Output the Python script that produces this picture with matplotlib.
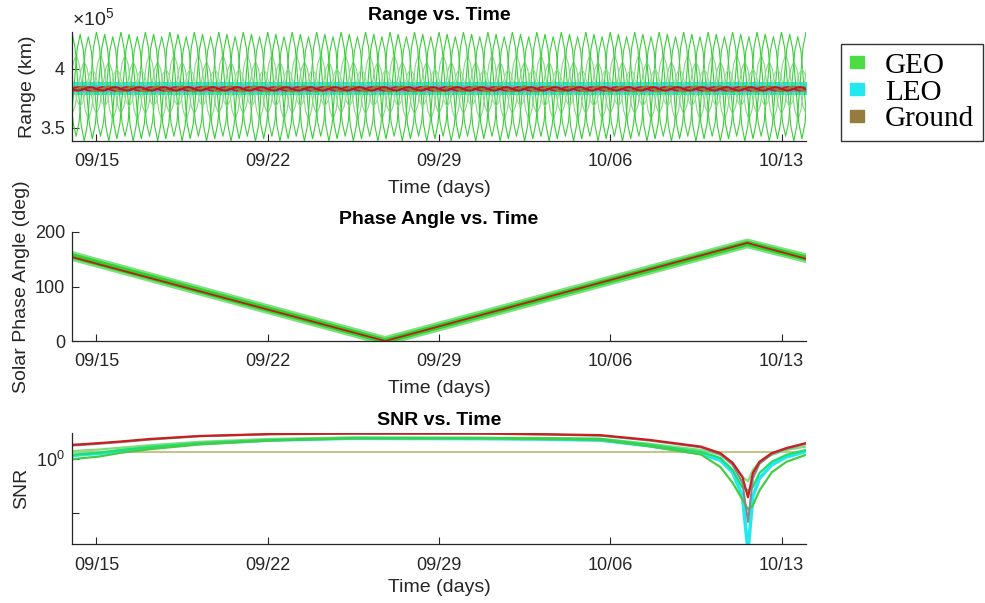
import numpy as np
import matplotlib
matplotlib.use('Agg')
import matplotlib.pyplot as plt
import matplotlib.dates as mdates
from matplotlib.patches import Patch
from matplotlib.ticker import FixedLocator, FuncFormatter, NullLocator

plt.rcParams['font.family'] = ['Liberation Sans', 'DejaVu Sans']
plt.rcParams['mathtext.fontset'] = 'custom'
plt.rcParams['mathtext.rm'] = 'Liberation Sans'
plt.rcParams['mathtext.it'] = 'Liberation Sans:italic'

# time axis (days after start_date)
start_date = np.datetime64('2026-09-14T00:00')
end_day = 30
tick_dates = ['2026-09-15', '2026-09-22', '2026-09-29', '2026-10-06', '2026-10-13']

# ---- range vs time ----
day_profile = [1.0, 0.71, 0.0, -0.71, -1.0, -0.71, 0.0, 0.71]  # one day, 3 h steps
geo_peak_km = [431e3, 412e3, 429e3, 406e3, 427e3, 400e3]
geo_trough_km = [339e3, 357e3, 341e3, 362e3, 343e3, 368e3]
geo_peak_hour = [0, 4, 8, 12, 16, 20]
leo_range_min_km = 377.5e3
leo_range_max_km = 389e3
ground_peak_km = [385e3, 384.5e3, 385e3, 384.5e3]
ground_trough_km = [381e3, 381.5e3, 381e3, 381.5e3]
ground_peak_hour = [0, 6, 12, 18]

# ---- phase angle vs time ----
phase_days = [0, 12.8, 27.6, 30]
geo_phase_deg = [156, 0, 179, 152]
ground_phase_deg = [154, 0, 180, 151]

# ---- SNR vs time ----
snr_days = [0, 0.5, 1.1, 2, 3.2, 5.2, 8.1, 11.4, 16.7, 19.5, 21.6, 23.6, 25.7,
            26.5, 27.0, 27.4, 27.63, 27.83, 28.1, 28.6, 29.2, 30]
snr_ground_red = [1.35, 1.37, 1.40, 1.45, 1.53, 1.63, 1.70, 1.72, 1.72, 1.69, 1.66, 1.50, 1.30,
                  1.13, 0.92, 0.68, 0.44, 0.74, 0.94, 1.13, 1.26, 1.40]
snr_ground_gray = [1.33, 1.35, 1.38, 1.43, 1.51, 1.62, 1.69, 1.71, 1.71, 1.68, 1.64, 1.48, 1.28,
                   1.10, 0.88, 0.60, 0.26, 0.66, 0.90, 1.11, 1.24, 1.38]
snr_ground_flat = [1.16, 1.16]
snr_geo = [
    [1.18, 1.20, 1.22, 1.27, 1.34, 1.44, 1.53, 1.58, 1.57, 1.56, 1.54, 1.38, 1.21,
     1.09, 0.92, 0.68, 0.62, 0.79, 0.94, 1.09, 1.21, 1.30],
    [1.09, 1.11, 1.14, 1.21, 1.29, 1.40, 1.50, 1.56, 1.56, 1.55, 1.53, 1.35, 1.16,
     1.02, 0.79, 0.54, 0.51, 0.55, 0.74, 0.94, 1.09, 1.21],
    [0.99, 1.02, 1.05, 1.14, 1.23, 1.36, 1.48, 1.55, 1.55, 1.53, 1.50, 1.31, 1.10,
     0.84, 0.60, 0.42, 0.34, 0.37, 0.51, 0.75, 0.94, 1.09],
]
snr_leo = [1.07, 1.10, 1.12, 1.19, 1.27, 1.39, 1.49, 1.55, 1.54, 1.52, 1.49, 1.32, 1.12,
           0.97, 0.75, 0.45, 0.14, 0.45, 0.66, 0.88, 1.04, 1.17]

geo_color = '#4cdc44'
leo_color = '#22e8f0'
ground_color = '#957c3c'
axis_color = '#262626'


def to_dates(days):
    secs = (np.asarray(days, dtype=float) * 86400).astype('timedelta64[s]')
    return start_date + secs


def daily_wave(peak, trough, hour):
    # repeat the one-day profile over the whole period
    n = (end_day + 2) * len(day_profile) + 1
    steps = np.arange(n)
    days = (hour + (steps - len(day_profile)) * 24 / len(day_profile)) / 24
    mid = (peak + trough) / 2
    half = (peak - trough) / 2
    return to_dates(days), mid + half * np.resize(day_profile, n)


fig = plt.figure(figsize=(9.85, 6.03), dpi=100)
ax1 = fig.add_axes([72 / 985, 1 - 141 / 603, 734 / 985, 109 / 603])
ax2 = fig.add_axes([72 / 985, 1 - 341 / 603, 734 / 985, 109 / 603])
ax3 = fig.add_axes([72 / 985, 1 - 544 / 603, 734 / 985, 111 / 603])

# range
geo_line_colors = ['#3ccc3c', '#86d886', '#2ed02e', '#7fd47f', '#44cc44', '#90dc90']
for pk, tr, hr, c in zip(geo_peak_km, geo_trough_km, geo_peak_hour, geo_line_colors):
    t, r = daily_wave(pk, tr, hr)
    ax1.plot(t, r, color=c, lw=0.8)
ax1.fill_between(to_dates([-1, end_day + 1]), leo_range_min_km, leo_range_max_km,
                 color=leo_color, lw=0)
ground_line_colors = ['#7f9ec4', '#c62424', ground_color, '#b81c1c']
for pk, tr, hr, c in zip(ground_peak_km, ground_trough_km, ground_peak_hour, ground_line_colors):
    t, r = daily_wave(pk, tr, hr)
    ax1.plot(t, r, color=c, lw=1.5)
ax1.set_ylim(339e3, 431e3)
ax1.yaxis.set_major_locator(FixedLocator([350e3, 400e3]))
ax1.yaxis.set_major_formatter(FuncFormatter(lambda v, p: '%g' % (v / 1e5)))
ax1.text(0.0, 1.03, r'$\times10^{5}$', transform=ax1.transAxes, fontsize=14,
         color=axis_color, ha='left', va='bottom')
ax1.set_title('Range vs. Time', fontweight='bold', fontsize=14, pad=8.5)
ax1.set_ylabel('Range (km)', fontsize=14, color=axis_color)

# phase angle
ax2.plot(to_dates(phase_days), geo_phase_deg, color='#7fe07f', lw=7, solid_joinstyle='miter')
ax2.plot(to_dates(phase_days), geo_phase_deg, color='#2ed22e', lw=4, solid_joinstyle='miter')
ax2.plot(to_dates(phase_days), ground_phase_deg, color='#b8201c', lw=1.3)
ax2.set_ylim(0, 200)
ax2.set_yticks([0, 100, 200])
ax2.set_title('Phase Angle vs. Time', fontweight='bold', fontsize=14, pad=6)
ax2.set_ylabel('Solar Phase Angle (deg)', fontsize=14, color=axis_color)

# SNR
ax3.plot(to_dates([0, end_day]), snr_ground_flat, color='#b5bd6e', lw=1.2)
ax3.plot(to_dates(snr_days), snr_leo, color=leo_color, lw=2.5)
for vals, c in zip(snr_geo, ['#7fdc7f', '#22dd66', '#44cc44']):
    ax3.plot(to_dates(snr_days), vals, color=c, lw=1.6)
ax3.plot(to_dates(snr_days), snr_ground_gray, color='#808890', lw=1.5)
ax3.plot(to_dates(snr_days), snr_ground_red, color='#c8201e', lw=1.6)
ax3.set_yscale('log')
ax3.set_ylim(10 ** -0.79, 10 ** 0.24)
ax3.yaxis.set_major_locator(FixedLocator([10 ** -0.5, 1.0]))
ax3.yaxis.set_major_formatter(FuncFormatter(lambda v, p: r'$10^{0}$' if abs(v - 1) < 1e-6 else ''))
ax3.yaxis.set_minor_locator(NullLocator())
ax3.set_title('SNR vs. Time', fontweight='bold', fontsize=14, pad=6)
ax3.set_ylabel('SNR', fontsize=14, color=axis_color)

for ax, xpad, lpad, ylx in [(ax1, 9, 7, -0.049), (ax2, 9, 7, -0.057), (ax3, 9, 4, -0.057)]:
    ax.set_xlim(to_dates([0, end_day]))
    ax.xaxis.set_major_locator(FixedLocator(mdates.date2num(np.array(tick_dates, dtype='datetime64[D]'))))
    ax.xaxis.set_major_formatter(mdates.DateFormatter('%m/%d'))
    ax.xaxis.set_minor_locator(NullLocator())
    ax.spines['top'].set_visible(False)
    ax.spines['right'].set_visible(False)
    for s in ('left', 'bottom'):
        ax.spines[s].set_color(axis_color)
        ax.spines[s].set_linewidth(0.9)
    ax.tick_params(axis='x', direction='in', length=5, labelsize=13, colors=axis_color, pad=xpad)
    ax.tick_params(axis='y', direction='in', length=5, labelsize=13, colors=axis_color, pad=5)
    ax.set_xlabel('Time (days)', fontsize=14, color=axis_color, labelpad=lpad)
    ax.yaxis.set_label_coords(ylx, 0.5)

handles = [Patch(color=geo_color), Patch(color=leo_color), Patch(color=ground_color)]
fig.legend(handles, ['GEO', 'LEO', 'Ground'], loc='upper left',
           bbox_to_anchor=(841 / 985, 1 - 44 / 603), borderaxespad=0,
           prop={'family': 'Liberation Serif', 'size': 21}, frameon=True, fancybox=False,
           edgecolor='black', handlelength=0.5, handleheight=0.25, handletextpad=0.7,
           labelspacing=0.03, borderpad=0.3)

fig.savefig('out.png', dpi=100)
